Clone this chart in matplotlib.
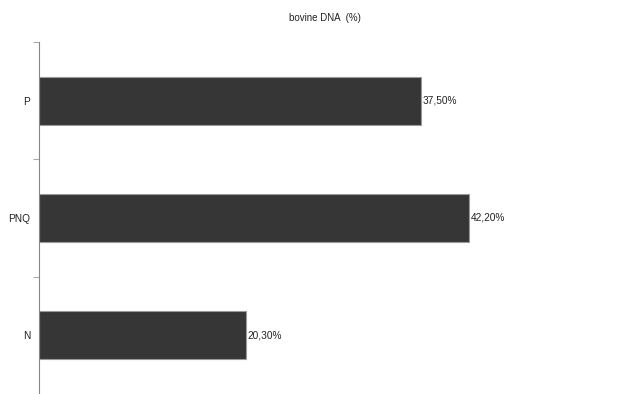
import matplotlib.pyplot as plt
import numpy as np

plt.rcParams['font.family'] = ['Liberation Sans', 'DejaVu Sans']

# data
categories = ['N', 'PNQ', 'P']
values = [20.3, 42.2, 37.5]
labels = ['20,30%', '42,20%', '37,50%']

W, H = 643, 394
fig = plt.figure(figsize=(W / 100, H / 100), dpi=100)
left, right, top, bottom = 38.5, 643, 42, 394
ax = fig.add_axes([left / W, 1 - bottom / H, (right - left) / W, (bottom - top) / H])

y = np.arange(len(categories))
ax.barh(y, values, height=0.41, color='#363636', edgecolor='#9a9a9a', linewidth=0.8)
for yi, v, lab in zip(y, values, labels):
    ax.text(v + 0.15, yi, lab, va='center', ha='left', fontsize=7.3, color='#222222')

ax.set_xlim(0, (right - left) / 10.2)
ax.set_ylim(-0.5, 2.5)
ax.set_yticks(y)
ax.set_yticklabels(categories, fontsize=7.3, color='#222222')
ax.set_yticks([-0.5, 0.5, 1.5, 2.5], minor=True)
ax.tick_params(axis='y', which='major', length=0, pad=6)
ax.tick_params(axis='y', which='minor', length=4, color='#aaaaaa', width=0.8)
ax.set_xticks([])

for s in ['top', 'right', 'bottom']:
    ax.spines[s].set_visible(False)
ax.spines['left'].set_color('#888888')
ax.spines['left'].set_linewidth(0.8)

fig.text(325 / W, 1 - 18 / H, 'bovine DNA  (%)', ha='center', va='center', fontsize=7, color='#222222')

fig.savefig('out.png', dpi=100)
